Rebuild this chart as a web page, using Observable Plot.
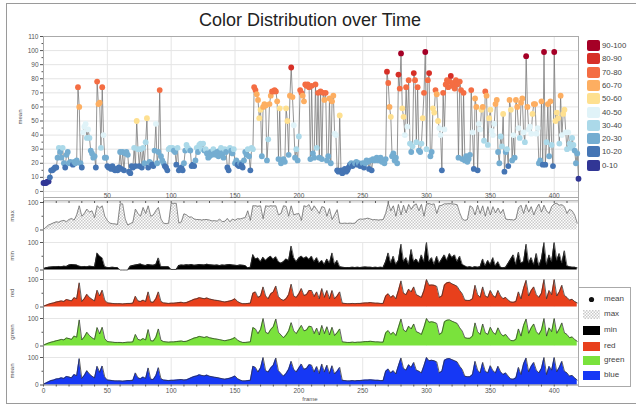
<!DOCTYPE html>
<html><head><meta charset="utf-8">
<script src="https://cdn.jsdelivr.net/npm/d3@7"></script>
<script src="https://cdn.jsdelivr.net/npm/@observablehq/plot@0.6"></script>
<style>
body{margin:0;background:#fff;overflow:hidden;font-family:"Liberation Sans",Arial,sans-serif;}
#wrap{position:relative;width:636px;height:406px;overflow:hidden;background:#fff;}
.outer{position:absolute;left:6px;top:3px;width:700px;height:399px;border:1px solid #9a9a9a;}
.panel{position:absolute;left:0;}
.title{position:absolute;left:0;top:8px;width:620px;text-align:center;font-size:18px;line-height:24px;color:#222;}
.vlab{position:absolute;font-size:6px;color:#555;transform:translate(-50%,-50%) rotate(-90deg);white-space:nowrap;}
.lg1{position:absolute;font-size:7.8px;color:#444;line-height:11px;}
.lg1 .sw{position:absolute;left:0;top:0;width:13px;height:11px;border-radius:2px;}
.lg1 span{position:absolute;left:15px;top:0;white-space:nowrap;}
.box2{position:absolute;left:578px;top:287px;width:51px;height:98px;border:1px solid #aaa;background:#fff;}
.lg2{position:absolute;left:4px;font-size:8px;color:#444;line-height:10px;height:10px;}
.lg2 .sw{position:absolute;left:0;top:0;width:17px;height:9px;}
.lg2 span{position:absolute;left:21px;top:-1px;white-space:nowrap;}
.frlab{position:absolute;top:396px;left:0;width:620px;text-align:center;font-size:6px;color:#555;}
</style></head>
<body><div id="wrap"><div class="outer"></div></div>
<script>
// ---- data ----
const meanValues = [
 6,6,6,7,7,10,15,15,16,17,17,24,31,28,24,31,20,17,26,28,
 20,21,20,19,21,20,22,74,60,20,17,42,46,48,38,44,38,29,27,24,
 25,17,78,62,63,31,74,40,24,24,18,17,17,16,18,16,15,16,15,17,
 28,16,28,15,27,28,26,14,13,18,17,31,18,50,30,18,30,17,31,20,
 35,52,17,21,20,19,18,29,48,20,28,72,25,22,20,18,17,15,30,31,
 30,31,29,28,19,31,15,16,17,15,20,29,33,31,30,29,18,19,18,22,
 31,28,33,34,30,34,29,30,27,24,25,28,26,30,27,26,28,25,29,31,
 27,24,30,28,17,15,31,29,27,30,20,22,19,18,20,19,17,22,28,26,
 30,25,15,31,30,74,72,69,65,52,58,25,60,62,61,22,37,62,68,71,
 71,72,71,64,23,59,20,22,23,21,59,50,26,68,88,67,47,24,30,22,
 39,72,70,68,64,76,75,76,74,23,75,27,24,76,31,70,24,71,23,70,
 65,70,22,25,66,20,64,68,41,40,15,14,54,15,13,15,16,14,15,17,
 19,20,18,19,20,21,19,20,18,19,20,17,20,22,21,16,22,15,23,22,
 23,24,22,23,24,21,22,20,23,85,77,60,53,25,27,22,24,20,83,73,
 98,59,53,40,74,46,79,34,28,32,84,79,35,74,29,28,34,52,70,99,
 30,79,84,25,28,59,56,72,69,50,45,40,15,70,44,76,79,74,78,82,
 75,77,73,79,76,24,78,72,23,70,22,25,21,23,26,72,42,16,66,60,
 15,48,44,58,60,36,71,68,33,52,58,43,40,48,62,65,28,20,39,32,
 55,14,28,30,18,65,58,22,40,24,65,60,45,38,63,66,42,35,96,60,
 44,46,41,55,62,62,41,45,20,22,64,19,99,19,35,62,25,64,33,18,
 99,50,56,52,34,68,40,55,58,42,30,42,34,31,38,33,29,20,27,9];
const maxValues = [
 2,10,18,22,26,30,28,33,35,30, 38,42,36,55,88,50,60,76,65,70,
 45,88,80,88,50,35,25,23,22,20, 95,95,40,18,23,28,76,60,50,82,
 60,88,50,55,70,82,40,25,23,25, 97,97,97,25,30,59,55,47,47,40,
 38,38,36,38,38,36,33,34,32,40, 30,32,42,30,40,35,41,40,43,45,
 70,35,88,88,86,88,41,88,86,88, 87,88,55,60,88,86,50,88,55,58,
 60,35,88,85,92,70,88,75,60,85, 82,50,78,38,55,74,25,24,25,24,
 25,24,25,36,40,39,41,43,40,37, 38,36,37,38,60,99,70,88,50,93,
 55,90,62,93,75,90,95,70,93,50, 95,96,93,95,60,88,90,95,95,96,
 95,94,92,62,40,35,38,88,82,55, 90,60,88,50,85,55,85,62,80,60,
 75,40,38,38,36,40,80,90,60,92, 65,85,55,78,94,65,90,70,60,85,
 95,97,90,92,85,60,75,70,55,25];
const minValues = [
 5,8,10,11,12,12,13,12,14,13, 18,20,19,18,14,12,13,12,14,13,
 12,62,50,44,12,9,9,10,9,9, 0,0,0,0,14,16,18,20,22,18,
 16,20,18,17,20,44,12,12,12,12, 2,2,2,16,18,17,19,18,20,17,
 18,20,19,18,21,19,18,17,18,16, 18,17,19,20,18,17,16,18,17,16,
 8,10,56,40,44,30,46,35,44,50, 38,48,30,25,30,40,35,87,45,30,
 44,50,42,48,38,50,30,45,25,35, 20,40,25,62,20,35,12,10,9,9,
 9,10,9,10,9,10,11,10,10,9, 10,9,10,9,30,62,25,50,20,35,
 94,30,45,20,75,30,40,25,55,30, 100,30,45,20,50,25,40,55,35,60,
 45,55,30,50,20,15,10,12,9,12, 10,12,40,15,35,20,45,15,30,10,
 8,10,25,40,55,20,65,25,30,94, 25,45,20,60,15,40,100,20,55,30,
 100,35,60,25,70,15,12,10,10,8];
const redValues = [
 3,6,10,13,15,18,20,22,20,27, 25,22,34,30,88,20,30,46,35,28,
 22,61,40,61,25,15,14,13,12,12, 12,11,12,13,13,14,39,22,20,25,
 20,55,18,17,30,55,20,15,14,13, 14,14,15,16,17,15,16,20,24,28,
 30,34,32,30,33,29,27,25,24,22, 20,18,20,22,25,30,20,15,12,12,
 13,14,50,55,35,40,73,40,30,48, 55,76,38,28,24,30,45,83,40,35,
 48,67,42,45,60,60,38,55,30,67, 35,60,30,60,30,40,55,14,13,12,
 12,13,12,13,13,14,15,15,16,15, 14,14,13,13,40,48,35,42,30,60,
 95,50,45,65,55,73,45,40,35,60, 100,79,80,79,75,35,40,80,88,90,
 84,80,75,60,48,25,24,24,30,79, 45,35,73,40,35,60,42,35,60,40,
 30,35,25,18,17,20,55,30,68,97, 40,60,73,45,35,50,100,30,60,45,
 100,40,55,79,42,35,25,28,20,15];
const greenValues = [
 3,7,11,14,16,19,21,24,22,29, 27,24,36,32,95,22,33,50,38,30,
 24,67,44,68,27,16,15,14,13,13, 13,12,13,14,14,15,42,24,21,27,
 22,60,19,18,32,62,21,16,15,14, 15,15,16,17,18,16,17,21,25,29,
 31,35,33,31,34,30,28,26,25,23, 21,19,21,23,26,31,21,16,13,13,
 14,15,67,62,45,60,100,50,45,60, 70,98,50,40,30,40,55,85,55,45,
 60,75,55,58,72,70,45,65,40,75, 45,70,40,68,38,48,62,15,14,13,
 13,14,13,14,14,15,16,16,17,16, 15,15,14,14,48,56,42,50,38,68,
 98,58,52,72,62,80,52,48,42,68, 100,86,88,86,82,42,48,88,94,95,
 90,86,82,66,54,30,28,28,36,84, 52,42,80,48,42,68,50,42,66,46,
 36,42,30,20,19,24,62,36,75,98, 46,66,80,52,42,58,100,36,66,52,
 100,46,62,84,48,42,30,33,24,17];
const blueValues = [
 3,7,12,16,18,22,23,26,24,31, 29,26,38,34,96,24,35,52,40,32,
 26,68,46,69,29,18,17,16,15,15, 15,14,15,16,16,17,44,26,23,29,
 24,62,21,20,34,63,23,18,17,16, 17,17,18,19,20,18,19,23,27,31,
 33,37,35,33,36,32,30,28,27,25, 23,21,23,25,28,33,23,18,15,15,
 16,17,68,64,47,62,100,52,47,62, 72,98,52,42,32,42,57,86,57,47,
 62,76,57,60,74,72,47,67,42,76, 47,72,42,70,40,50,64,17,16,15,
 15,16,15,16,16,17,18,18,19,18, 17,17,16,16,50,58,44,52,40,70,
 98,60,54,74,64,82,54,50,44,70, 100,88,90,88,84,44,50,90,95,96,
 92,88,84,68,56,32,30,30,38,86, 54,44,82,50,44,70,52,44,68,48,
 38,44,32,22,21,26,64,38,77,98, 48,68,82,54,44,60,100,38,68,54,
 100,48,64,86,50,44,32,35,26,18];
const binThresholds = [10,20,30,40,50,60,70,80,90];
const binLabels = ["0-10","10-20","20-30","30-40","40-50","50-60","60-70","70-80","80-90","90-100"];
const binColors = ["#313695","#4575b4","#74add1","#abd9e9","#e0f3f8","#fee090","#fdae61","#f46d43","#d73027","#a50026"];
const frameTicks = [0,50,100,150,200,250,300,350,400];
const seriesNames = ["mean","max","min","red","green","blue"];
const seriesFills = ["#000","url(#checkerL)","#000","#e8401c","#7ae23c","#1638f5"];
const panelLabels = ["max","min","red","green","mean"];

// ---- layout ----
const wrap = document.getElementById("wrap");
const W = 636, ML = 43, MR = 58, XMAX = 419;
const meanFrames = d3.range(meanValues.length);
const areaFrames = d3.range(0, maxValues.length * 2, 2);
const style = {fontFamily:"'Liberation Sans', Arial, sans-serif", fontSize:"6.5px", color:"#555", background:"transparent", overflow:"visible"};

function place(el, top){ const d=document.createElement("div"); d.className="panel"; d.style.top=top+"px"; d.appendChild(el); wrap.appendChild(d); return d; }
function addText(cls, html, css){ const d=document.createElement("div"); d.className=cls; d.innerHTML=html; Object.assign(d.style, css); wrap.appendChild(d); return d; }

function addChecker(svg, id){
  const defs = d3.select(svg).insert("defs", ":first-child");
  const p = defs.append("pattern").attr("id", id).attr("patternUnits","userSpaceOnUse").attr("width",3).attr("height",3);
  p.append("rect").attr("width",3).attr("height",3).attr("fill","#fff");
  p.append("rect").attr("width",1.5).attr("height",1.5).attr("fill","#c9c9c9");
  p.append("rect").attr("x",1.5).attr("y",1.5).attr("width",1.5).attr("height",1.5).attr("fill","#c9c9c9");
}

// title
addText("title", "Color Distribution over Time", {});

// main panel
const meanData = meanValues.map((v,i)=>({frame:meanFrames[i], value:v}));
const main = Plot.plot({
  width:W, height:170, marginLeft:ML, marginRight:MR, marginTop:6, marginBottom:3,
  style,
  x:{domain:[0,XMAX], axis:null},
  y:{domain:[-4.3,110], axis:null},
  color:{type:"threshold", domain:binThresholds, range:binColors},
  marks:[
    Plot.gridY(d3.range(0,111,10), {stroke:"#e4e4e4", strokeOpacity:1}),
    Plot.gridX(frameTicks.filter(d=>d>0), {stroke:"#e4e4e4", strokeOpacity:1}),
    Plot.frame({stroke:"#aaa"}),
    Plot.axisY(d3.range(0,111,10), {anchor:"left", tickSize:3, tickPadding:2, label:null}),
    Plot.axisY(d3.range(5,110,10), {anchor:"left", tickSize:1.5, tickFormat:()=>"", label:null}),
    Plot.line(meanData, {x:"frame", y:"value", stroke:"#7a7a7a", strokeWidth:0.8}),
    Plot.dot(meanData, {x:"frame", y:"value", fill:"value", r:2.9})
  ]
});
place(main, 30);
addText("vlab", "mean", {left:"20px", top:"117px"});

// small panels
function panel(values, {fill, stroke="#333", topAxis=false, bottomAxis=false}){
  const data = values.map((v,i)=>({frame:areaFrames[i], value:v}));
  const marks = [
    Plot.gridX(frameTicks.filter(d=>d>0), {stroke:"#e6e6e6", strokeOpacity:1}),
    Plot.gridY([100], {stroke:"#e6e6e6", strokeOpacity:1}),
    Plot.areaY(data, {x:"frame", y:"value", fill}),
    Plot.lineY(data, {x:"frame", y:"value", stroke, strokeWidth:0.75}),
    Plot.ruleX([0], {y1: bottomAxis ? 0 : -46, y2: topAxis ? 116 : 100, stroke:"#888"}),
    Plot.ruleX([XMAX], {y1: bottomAxis ? 0 : -46, y2: topAxis ? 116 : 100, stroke:"#aaa"}),
    Plot.axisY([0,100], {anchor:"left", tickSize:3, tickPadding:2, label:null}),
    Plot.axisY([50], {anchor:"left", tickSize:1.5, tickFormat:()=>"", label:null})
  ];
  if (topAxis) {
    marks.push(Plot.ruleY([106], {stroke:"#999"}));
    marks.push(Plot.axisX(d3.range(0,420,10), {anchor:"top", tickSize:2, tickPadding:3, tickFormat:d => (d%50===0 && d>0) ? String(d) : "", label:null}));
  }
  if (bottomAxis) {
    marks.push(Plot.ruleY([0], {stroke:"#888"}));
    marks.push(Plot.axisX(d3.range(0,420,10), {anchor:"bottom", tickSize:2, tickPadding:1.5, tickFormat:d => d%50===0 ? String(d) : "", label:null}));
  }
  return Plot.plot({
    width:W, height: bottomAxis ? 48 : 36, marginLeft:ML, marginRight:MR, marginTop:6, marginBottom: bottomAxis ? 14.5 : 2.5,
    style, x:{domain:[0,XMAX], axis:null}, y:{domain:[0,100], axis:null}, marks
  });
}
const maxPlot = panel(maxValues, {fill:"url(#checker)", stroke:"#666", topAxis:true});
addChecker(maxPlot, "checker");
place(maxPlot, 195.5);
place(panel(minValues, {fill:"#000"}), 235.5);
place(panel(redValues, {fill:seriesFills[3]}), 273);
place(panel(greenValues, {fill:seriesFills[4]}), 311.7);
place(panel(blueValues, {fill:seriesFills[5], bottomAxis:true}), 350.7);
const labYs = [215.5, 255.5, 293, 331.7, 370.7];
panelLabels.forEach((t,i)=>addText("vlab", t, {left:"12px", top:labYs[i]+"px"}));
addText("frlab", "frame", {});

// colour legend
binLabels.slice().reverse().forEach((lab, i) => {
  const c = binColors[binColors.length-1-i];
  addText("lg1", `<div class="sw" style="background:${c}"></div><span>${lab}</span>`, {left:"587px", top:(40.2 + i*13.26)+"px", width:"45px", height:"11px"});
});

// series legend
const box = document.createElement("div"); box.className="box2"; wrap.appendChild(box);
const rowY = [7, 22, 38, 54, 68, 83];
seriesNames.forEach((name, i) => {
  const d = document.createElement("div"); d.className="lg2"; d.style.top = rowY[i]+"px"; d.style.width="46px";
  let sw;
  if (name === "mean") sw = `<svg class="sw" width="17" height="9"><circle cx="8.5" cy="4.5" r="2.6" fill="#111"/></svg>`;
  else if (name === "max") sw = `<svg class="sw" width="17" height="9"><defs><pattern id="checkerL" patternUnits="userSpaceOnUse" width="3" height="3"><rect width="3" height="3" fill="#fff"/><rect width="1.5" height="1.5" fill="#c9c9c9"/><rect x="1.5" y="1.5" width="1.5" height="1.5" fill="#c9c9c9"/></pattern></defs><rect width="17" height="9" fill="url(#checkerL)"/></svg>`;
  else sw = `<div class="sw" style="background:${seriesFills[i]}"></div>`;
  d.innerHTML = sw + `<span>${name}</span>`;
  box.appendChild(d);
});
</script></body></html>
